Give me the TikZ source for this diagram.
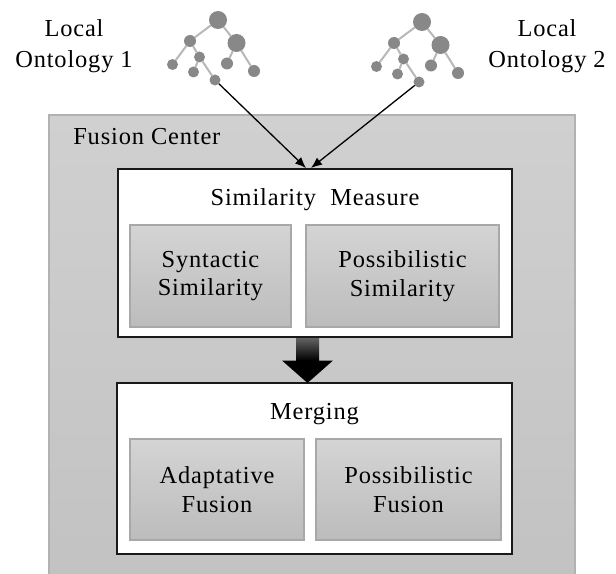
\documentclass[tikz,border=0pt]{standalone}
\usepackage{fontspec}
\setmainfont{Liberation Serif}[LetterSpace=3.5]
\usetikzlibrary{arrows.meta,calc}
\definecolor{outertop}{HTML}{D0D0D0}
\definecolor{outerbot}{HTML}{C2C2C2}
\definecolor{outerline}{HTML}{B2B2B2}
\definecolor{graytop}{HTML}{D4D4D4}
\definecolor{graybot}{HTML}{BCBCBC}
\definecolor{grayline}{HTML}{A8A8A8}
\definecolor{treenode}{HTML}{888888}
\definecolor{treeedge}{HTML}{B8B8B8}
\begin{document}
\begin{tikzpicture}[x=1bp,y=-1bp,
  every node/.style={font=\fontsize{24.5}{29}\selectfont, outer sep=0pt},
  outerbox/.style={draw=outerline, line width=1.5bp, top color=outertop, bottom color=outerbot, anchor=north west, inner sep=0pt},
  whitebox/.style={draw=black!90, line width=1.8bp, fill=white, anchor=north west, inner sep=0pt},
  graybox/.style={draw=grayline, line width=1.3bp, top color=graytop, bottom color=graybot, align=center, inner sep=0pt},
  title/.style={anchor=base},
  lbl/.style={align=center, font=\fontsize{24.5}{31}\selectfont},
  thinarrow/.style={draw=black, line width=1.3bp, -{Latex[length=11bp,width=9bp]}},
  tnode/.style={circle, fill=treenode, inner sep=0pt, minimum size=#1},
  tedge/.style={draw=treeedge, line width=2bp},
  ontotree/.pic={
    \node[tnode=18bp] (-r) at (0,0) {};
    \node[tnode=12bp] (-l) at (-28,21) {};
    \node[tnode=18bp] (-rt) at (18.5,23) {};
    \node[tnode=11bp] (-ll) at (-45.5,44.5) {};
    \node[tnode=11bp] (-lr) at (-18.5,37) {};
    \node[tnode=11bp] (-lrl) at (-24.5,52) {};
    \node[tnode=11bp] (-lrr) at (-3,60) {};
    \node[tnode=12bp] (-rl) at (9,43.5) {};
    \node[tnode=12bp] (-rr) at (36,51) {};
    \draw[tedge] (-r)--(-l) (-r)--(-rt) (-l)--(-ll) (-l)--(-lr)
      (-lr)--(-lrl) (-lr)--(-lrr) (-rt)--(-rl) (-rt)--(-rr);
  }]
\useasboundingbox (0,0) rectangle (616,574);
\fill[white] (0,0) rectangle (616,574);

% outer fusion center
\node[outerbox, minimum width=526bp, minimum height=470bp] (fc) at (49,115) {};
\node[anchor=base west] (fctext) at (70,145) {Fusion Center};

% similarity measure
\node[whitebox, minimum width=394bp, minimum height=168bp] (sim) at (118,169) {};
\node[title] (simtitle) at ($(sim.north)+(0,36)$) {Similarity\hspace{0.3em} Measure};
\node[graybox, minimum width=161bp, minimum height=102bp] (syn) at (210.5,276) {Syntactic\\Similarity};
\node[graybox, minimum width=193bp, minimum height=102bp] (pos) at (402.5,276) {Possibilistic\\Similarity};

% merging
\node[whitebox, minimum width=395bp, minimum height=171bp] (mer) at (117,383) {};
\node[title] (mertitle) at ($(mer.north)+(0,36)$) {Merging};
\node[graybox, minimum width=174bp, minimum height=101bp] (ada) at (217,489.5) {Adaptative\\Fusion};
\node[graybox, minimum width=185bp, minimum height=101bp] (pfu) at (408.5,489.5) {Possibilistic\\Fusion};

% big arrow
\coordinate (a1) at (307.5,338.5);
\coordinate (a2) at (307.5,383);
\shade[top color=black!62, bottom color=black] ($(a1)+(-11.5,0)$) rectangle ($(a1)+(11.5,22)$);
\fill[black] ($(a1)+(-25.5,22)$) -- ($(a1)+(25.5,22)$) -- (a2) -- cycle;

% trees
\pic (L) at (218,20) {ontotree};
\pic (R) at (422,22) {ontotree};
\node[lbl] (lab1) at (74,46) {Local\\Ontology 1};
\node[lbl] (lab2) at (547,46) {Local\\Ontology 2};

% thin arrows
\coordinate (t1) at (306,168);
\coordinate (t2) at (311,168);
\draw[thinarrow] (L-lrr) -- (t1);
\draw[thinarrow] (R-lrr) -- (t2);
\end{tikzpicture}
\end{document}
